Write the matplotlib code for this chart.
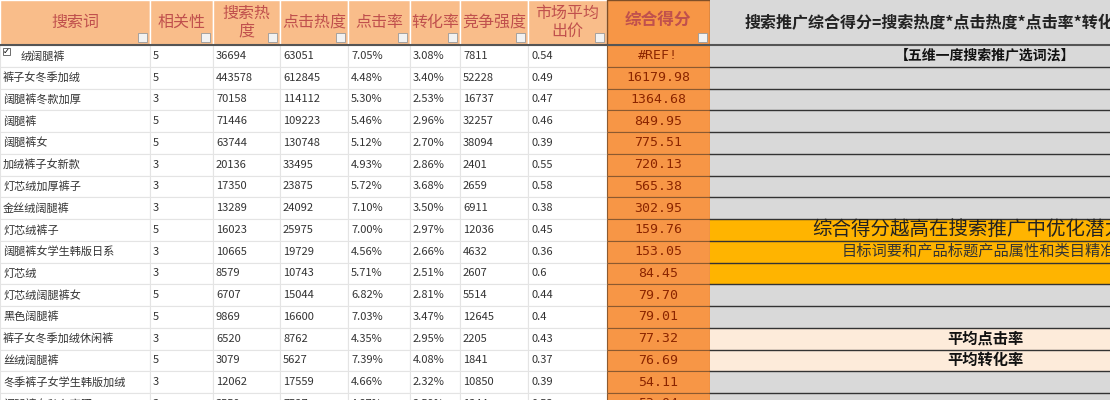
import matplotlib.pyplot as plt
from matplotlib.patches import Rectangle

plt.rcParams["font.family"] = ["Noto Sans CJK SC", "DejaVu Sans"]

headers = ["搜索词", "相关性", "搜索热\n度", "点击热度", "点击率", "转化率", "竞争强度", "市场平均\n出价"]
keywords = ["绒阔腿裤", "裤子女冬季加绒", "阔腿裤冬款加厚", "阔腿裤", "阔腿裤女", "加绒裤子女新款",
            "灯芯绒加厚裤子", "金丝绒阔腿裤", "灯芯绒裤子", "阔腿裤女学生韩版日系", "灯芯绒",
            "灯芯绒阔腿裤女", "黑色阔腿裤", "裤子女冬季加绒休闲裤", "丝绒阔腿裤", "冬季裤子女学生韩版加绒",
            "阔腿裤女秋冬高腰"]
relevance = [5, 5, 3, 5, 5, 3, 3, 3, 5, 3, 3, 5, 5, 3, 5, 3, 3]
search_heat = [36694, 443578, 70158, 71446, 63744, 20136, 17350, 13289, 16023, 10665, 8579,
               6707, 9869, 6520, 3079, 12062, 3550]
click_heat = [63051, 612845, 114112, 109223, 130748, 33495, 23875, 24092, 25975, 19729, 10743,
              15044, 16600, 8762, 5627, 17559, 7527]
ctr = ["7.05%", "4.48%", "5.30%", "5.46%", "5.12%", "4.93%", "5.72%", "7.10%", "7.00%", "4.56%",
       "5.71%", "6.82%", "7.03%", "4.35%", "7.39%", "4.66%", "4.87%"]
cvr = ["3.08%", "3.40%", "2.53%", "2.96%", "2.70%", "2.86%", "3.68%", "3.50%", "2.97%", "2.66%",
       "2.51%", "2.81%", "3.47%", "2.95%", "4.08%", "2.32%", "2.59%"]
competition = [7811, 52228, 16737, 32257, 38094, 2401, 2659, 6911, 12036, 4632, 2607, 5514,
               12645, 2205, 1841, 10850, 1344]
avg_bid = ["0.54", "0.49", "0.47", "0.46", "0.39", "0.55", "0.58", "0.38", "0.45", "0.36", "0.6",
           "0.44", "0.4", "0.43", "0.37", "0.39", "0.53"]
score = ["#REF!", "16179.98", "1364.68", "849.95", "775.51", "720.13", "565.38", "302.95",
         "159.76", "153.05", "84.45", "79.70", "79.01", "77.32", "76.69", "54.11", "53.04"]

col_edges = [0, 150, 213, 280, 348, 410, 460, 528, 607, 710, 1110]
header_h = 45
row_h = 21.75

fig = plt.figure(figsize=(11.1, 4.0), dpi=100)
ax = fig.add_axes([0, 0, 1, 1])
ax.set_xlim(0, 1110)
ax.set_ylim(400, 0)
ax.axis("off")

head_fill = "#F9BD8A"
head_text = "#C0504D"
orange = "#F79646"
gray = "#D9D9D9"

# header row
for i, h in enumerate(headers):
    x0, x1 = col_edges[i], col_edges[i + 1]
    ax.add_patch(Rectangle((x0, 0), x1 - x0, header_h, fc=head_fill, ec="#FFFFFF", lw=1))
    ax.text((x0 + x1) / 2, header_h / 2, h, ha="center", va="center", fontsize=11.5,
            color=head_text, linespacing=1.1)
    ax.add_patch(Rectangle((x1 - 12, header_h - 12), 9, 9, fc="#F2F2F2", ec="#999999", lw=0.6))
ax.add_patch(Rectangle((607, 0), 103, header_h, fc=orange, ec="#7F4F28", lw=1))
ax.text(658, 20, "综合得分", ha="center", va="center", fontsize=12, color=head_text, weight="bold")
ax.add_patch(Rectangle((698, header_h - 12), 9, 9, fc="#F2F2F2", ec="#999999", lw=0.6))
ax.add_patch(Rectangle((710, 0), 400, header_h, fc=gray, ec="none"))
ax.text(745, 22, "搜索推广综合得分=搜索热度*点击热度*点击率*转化率/竞争强度", ha="left", va="center",
        fontsize=11.5, weight="bold", color="#222222", clip_on=True)
ax.plot([0, 1110], [header_h, header_h], color="#555555", lw=1.5)

# body
for r in range(len(keywords)):
    y0 = header_h + r * row_h
    yc = y0 + row_h / 2
    vals = [keywords[r], relevance[r], search_heat[r], click_heat[r], ctr[r], cvr[r],
            competition[r], avg_bid[r]]
    for c, v in enumerate(vals):
        x0, x1 = col_edges[c], col_edges[c + 1]
        ax.add_patch(Rectangle((x0, y0), x1 - x0, row_h, fc="white", ec="#E4E4E4", lw=0.8))
        tx = x0 + 3 + (18 if (r == 0 and c == 0) else 0)
        ax.text(tx, yc, str(v), ha="left", va="center", fontsize=8, color="#333333")
    ax.add_patch(Rectangle((607, y0), 103, row_h, fc=orange, ec="#8C5A30", lw=0.8))
    ax.text(658, yc, score[r], ha="center", va="center", fontsize=9.5, color="#8B2500",
            family="DejaVu Sans Mono")
    if r in (8, 9, 10):
        fc = "#FFB400"
    elif r in (13, 14):
        fc = "#FDEBDA"
    else:
        fc = gray
    ax.add_patch(Rectangle((710, y0), 400, row_h, fc=fc, ec="none"))
    ax.plot([710, 1110], [y0 + row_h, y0 + row_h], color="#333333", lw=1)

# checkbox in first row
ax.add_patch(Rectangle((3, 48), 7, 7, fc="white", ec="#555555", lw=0.6))
ax.text(6.5, 51.5, "✓", ha="center", va="center", fontsize=6, color="black", family="DejaVu Sans")

# notes in the right-hand area
def row_center(r):
    return header_h + r * row_h + row_h / 2

ax.text(985, row_center(0), "【五维一度搜索推广选词法】", ha="center", va="center", fontsize=10,
        weight="bold", color="#111111")
ax.text(812, row_center(8), "综合得分越高在搜索推广中优化潜力越大", ha="left", va="center",
        fontsize=14, color="#222222", clip_on=True)
ax.text(842, row_center(9), "目标词要和产品标题产品属性和类目精准相关", ha="left", va="center",
        fontsize=11, color="#333333", clip_on=True)
ax.text(985, row_center(13), "平均点击率", ha="center", va="center", fontsize=11, weight="bold",
        color="#111111")
ax.text(985, row_center(14), "平均转化率", ha="center", va="center", fontsize=11, weight="bold",
        color="#111111")

fig.savefig("out.png", dpi=100)
